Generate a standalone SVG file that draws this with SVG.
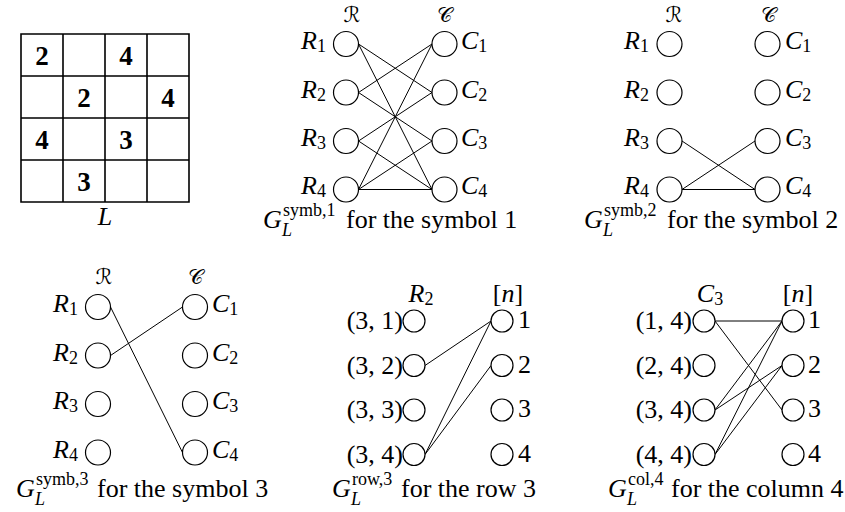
<svg xmlns="http://www.w3.org/2000/svg" width="845" height="512" viewBox="0 0 845 512">
<style>
text{font-family:"Liberation Serif",serif;font-size:26px;fill:#000}
.i{font-style:italic}
.s{font-size:18px}
.sc{font-family:"DejaVu Serif","DejaVu Sans",serif;font-size:21px}
.d{font-size:27px;font-weight:bold}
.n{fill:#fff;stroke:#000;stroke-width:1.2}
.e line{stroke:#000;stroke-width:1}
.g{fill:none;stroke:#000;stroke-width:1.6}
.m{text-anchor:middle}
.r{text-anchor:end}
</style>
<rect width="845" height="512" fill="#fff"/>

<!-- Latin square L -->
<g id="latin-square">
<path class="g" d="M21 34H189V202H21Z M63 34V202 M105 34V202 M147 34V202 M21 76H189 M21 118H189 M21 160H189"/>
<text class="m d" x="42" y="65">2</text>
<text class="m d" x="126" y="65">4</text>
<text class="m d" x="84" y="107">2</text>
<text class="m d" x="168" y="107">4</text>
<text class="m d" x="42" y="149">4</text>
<text class="m d" x="126" y="149">3</text>
<text class="m d" x="84" y="191">3</text>
<text class="m i" x="105" y="225">L</text>
</g>

<!-- Graph symb,1 -->
<g id="symb1-connectors" class="e">
<line x1="358.5" y1="44" x2="432" y2="92.5"/>
<line x1="358.5" y1="44" x2="432" y2="189.5"/>
<line x1="358.5" y1="92.5" x2="432" y2="44"/>
<line x1="358.5" y1="92.5" x2="432" y2="141"/>
<line x1="358.5" y1="141" x2="432" y2="92.5"/>
<line x1="358.5" y1="141" x2="432" y2="189.5"/>
<line x1="358.5" y1="189.5" x2="432" y2="44"/>
<line x1="358.5" y1="189.5" x2="432" y2="141"/>
<line x1="358.5" y1="189.5" x2="432" y2="189.5"/>
</g>
<g id="symb1-headers"><text class="m sc" x="352" y="22">ℛ</text><text class="m sc" x="444" y="22">𝒞</text></g>
<g id="s1-R1"><circle class="n" cx="346" cy="44" r="12.5"/><text class="r" x="326" y="49"><tspan class="i">R</tspan><tspan class="s" dy="3">1</tspan></text></g>
<g id="s1-R2"><circle class="n" cx="346" cy="92.5" r="12.5"/><text class="r" x="326" y="97.5"><tspan class="i">R</tspan><tspan class="s" dy="3">2</tspan></text></g>
<g id="s1-R3"><circle class="n" cx="346" cy="141" r="12.5"/><text class="r" x="326" y="146"><tspan class="i">R</tspan><tspan class="s" dy="3">3</tspan></text></g>
<g id="s1-R4"><circle class="n" cx="346" cy="189.5" r="12.5"/><text class="r" x="326" y="194"><tspan class="i">R</tspan><tspan class="s" dy="3">4</tspan></text></g>
<g id="s1-C1"><circle class="n" cx="444.5" cy="44" r="12.5"/><text x="461" y="49"><tspan class="i">C</tspan><tspan class="s" dy="3">1</tspan></text></g>
<g id="s1-C2"><circle class="n" cx="444.5" cy="92.5" r="12.5"/><text x="461" y="97.5"><tspan class="i">C</tspan><tspan class="s" dy="3">2</tspan></text></g>
<g id="s1-C3"><circle class="n" cx="444.5" cy="141" r="12.5"/><text x="461" y="146"><tspan class="i">C</tspan><tspan class="s" dy="3">3</tspan></text></g>
<g id="s1-C4"><circle class="n" cx="444.5" cy="189.5" r="12.5"/><text x="461" y="194"><tspan class="i">C</tspan><tspan class="s" dy="3">4</tspan></text></g>
<g id="s1-caption">
<text class="i" x="263" y="228">G</text><text class="s" x="283" y="216">symb,1</text><text class="s i" x="282" y="236">L</text>
<text x="346" y="228">for the symbol 1</text>
</g>

<!-- Graph symb,2 -->
<g id="symb2-connectors" class="e">
<line x1="682" y1="141" x2="755" y2="189.5"/>
<line x1="682" y1="189.5" x2="755" y2="141"/>
<line x1="682" y1="189.5" x2="755" y2="189.5"/>
</g>
<g id="symb2-headers"><text class="m sc" x="674" y="22">ℛ</text><text class="m sc" x="768" y="22">𝒞</text></g>
<g id="s2-R1"><circle class="n" cx="669.5" cy="44" r="12.5"/><text class="r" x="649" y="49"><tspan class="i">R</tspan><tspan class="s" dy="3">1</tspan></text></g>
<g id="s2-R2"><circle class="n" cx="669.5" cy="92.5" r="12.5"/><text class="r" x="649" y="97.5"><tspan class="i">R</tspan><tspan class="s" dy="3">2</tspan></text></g>
<g id="s2-R3"><circle class="n" cx="669.5" cy="141" r="12.5"/><text class="r" x="649" y="146"><tspan class="i">R</tspan><tspan class="s" dy="3">3</tspan></text></g>
<g id="s2-R4"><circle class="n" cx="669.5" cy="189.5" r="12.5"/><text class="r" x="649" y="194"><tspan class="i">R</tspan><tspan class="s" dy="3">4</tspan></text></g>
<g id="s2-C1"><circle class="n" cx="767.5" cy="44" r="12.5"/><text x="785" y="49"><tspan class="i">C</tspan><tspan class="s" dy="3">1</tspan></text></g>
<g id="s2-C2"><circle class="n" cx="767.5" cy="92.5" r="12.5"/><text x="785" y="97.5"><tspan class="i">C</tspan><tspan class="s" dy="3">2</tspan></text></g>
<g id="s2-C3"><circle class="n" cx="767.5" cy="141" r="12.5"/><text x="785" y="146"><tspan class="i">C</tspan><tspan class="s" dy="3">3</tspan></text></g>
<g id="s2-C4"><circle class="n" cx="767.5" cy="189.5" r="12.5"/><text x="785" y="194"><tspan class="i">C</tspan><tspan class="s" dy="3">4</tspan></text></g>
<g id="s2-caption">
<text class="i" x="584" y="228">G</text><text class="s" x="604" y="216">symb,2</text><text class="s i" x="603" y="236">L</text>
<text x="667" y="228">for the symbol 2</text>
</g>

<!-- Graph symb,3 -->
<g id="symb3-connectors" class="e">
<line x1="110.5" y1="307" x2="182.5" y2="452.5"/>
<line x1="110.5" y1="355.5" x2="182.5" y2="307"/>
</g>
<g id="symb3-headers"><text class="m sc" x="104" y="284">ℛ</text><text class="m sc" x="195" y="284">𝒞</text></g>
<g id="s3-R1"><circle class="n" cx="98" cy="307" r="12.5"/><text class="r" x="78" y="312"><tspan class="i">R</tspan><tspan class="s" dy="3">1</tspan></text></g>
<g id="s3-R2"><circle class="n" cx="98" cy="355.5" r="12.5"/><text class="r" x="78" y="360.5"><tspan class="i">R</tspan><tspan class="s" dy="3">2</tspan></text></g>
<g id="s3-R3"><circle class="n" cx="98" cy="404" r="12.5"/><text class="r" x="78" y="409"><tspan class="i">R</tspan><tspan class="s" dy="3">3</tspan></text></g>
<g id="s3-R4"><circle class="n" cx="98" cy="452.5" r="12.5"/><text class="r" x="78" y="457.5"><tspan class="i">R</tspan><tspan class="s" dy="3">4</tspan></text></g>
<g id="s3-C1"><circle class="n" cx="195" cy="307" r="12.5"/><text x="212" y="312"><tspan class="i">C</tspan><tspan class="s" dy="3">1</tspan></text></g>
<g id="s3-C2"><circle class="n" cx="195" cy="355.5" r="12.5"/><text x="212" y="360.5"><tspan class="i">C</tspan><tspan class="s" dy="3">2</tspan></text></g>
<g id="s3-C3"><circle class="n" cx="195" cy="404" r="12.5"/><text x="212" y="409"><tspan class="i">C</tspan><tspan class="s" dy="3">3</tspan></text></g>
<g id="s3-C4"><circle class="n" cx="195" cy="452.5" r="12.5"/><text x="212" y="457.5"><tspan class="i">C</tspan><tspan class="s" dy="3">4</tspan></text></g>
<g id="s3-caption">
<text class="i" x="16" y="497">G</text><text class="s" x="36" y="485">symb,3</text><text class="s i" x="35" y="505">L</text>
<text x="97" y="497">for the symbol 3</text>
</g>

<!-- Graph row,3 -->
<g id="row3-connectors" class="e">
<line x1="425" y1="365.5" x2="491" y2="321"/>
<line x1="425" y1="454.5" x2="491" y2="321"/>
<line x1="425" y1="454.5" x2="491" y2="365.5"/>
</g>
<g id="row3-headers"><text class="m" x="421" y="302"><tspan class="i">R</tspan><tspan class="s" dy="3">2</tspan></text><text class="m" x="508" y="302">[<tspan class="i">n</tspan>]</text></g>
<g id="r3-31"><circle class="n" cx="414" cy="321" r="11"/><text class="r" x="403" y="329">(3, 1)</text></g>
<g id="r3-32"><circle class="n" cx="414" cy="365.5" r="11"/><text class="r" x="403" y="373.5">(3, 2)</text></g>
<g id="r3-33"><circle class="n" cx="414" cy="410" r="11"/><text class="r" x="403" y="418">(3, 3)</text></g>
<g id="r3-34"><circle class="n" cx="414" cy="454.5" r="11"/><text class="r" x="403" y="462.5">(3, 4)</text></g>
<g id="r3-1"><circle class="n" cx="502" cy="321" r="11"/><text x="518" y="328">1</text></g>
<g id="r3-2"><circle class="n" cx="502" cy="365.5" r="11"/><text x="518" y="372.5">2</text></g>
<g id="r3-3"><circle class="n" cx="502" cy="410" r="11"/><text x="518" y="417">3</text></g>
<g id="r3-4"><circle class="n" cx="502" cy="454.5" r="11"/><text x="518" y="461.5">4</text></g>
<g id="row3-caption">
<text class="i" x="332" y="497">G</text><text class="s" x="352" y="485">row,3</text><text class="s i" x="351" y="505">L</text>
<text x="401" y="497">for the row 3</text>
</g>

<!-- Graph col,4 -->
<g id="col4-connectors" class="e">
<line x1="715" y1="321" x2="782" y2="321"/>
<line x1="715" y1="321" x2="782" y2="410"/>
<line x1="715" y1="410" x2="782" y2="321"/>
<line x1="715" y1="410" x2="782" y2="365.5"/>
<line x1="715" y1="454.5" x2="782" y2="321"/>
<line x1="715" y1="454.5" x2="782" y2="365.5"/>
</g>
<g id="col4-headers"><text class="m" x="710" y="302"><tspan class="i">C</tspan><tspan class="s" dy="3">3</tspan></text><text class="m" x="798" y="302">[<tspan class="i">n</tspan>]</text></g>
<g id="c4-14"><circle class="n" cx="704" cy="321" r="11"/><text class="r" x="692" y="329">(1, 4)</text></g>
<g id="c4-24"><circle class="n" cx="704" cy="365.5" r="11"/><text class="r" x="692" y="373.5">(2, 4)</text></g>
<g id="c4-34"><circle class="n" cx="704" cy="410" r="11"/><text class="r" x="692" y="418">(3, 4)</text></g>
<g id="c4-44"><circle class="n" cx="704" cy="454.5" r="11"/><text class="r" x="692" y="462.5">(4, 4)</text></g>
<g id="c4-1"><circle class="n" cx="793" cy="321" r="11"/><text x="808" y="328">1</text></g>
<g id="c4-2"><circle class="n" cx="793" cy="365.5" r="11"/><text x="808" y="372.5">2</text></g>
<g id="c4-3"><circle class="n" cx="793" cy="410" r="11"/><text x="808" y="417">3</text></g>
<g id="c4-4"><circle class="n" cx="793" cy="454.5" r="11"/><text x="808" y="461.5">4</text></g>
<g id="col4-caption">
<text class="i" x="608" y="497">G</text><text class="s" x="628" y="485">col,4</text><text class="s i" x="627" y="505">L</text>
<text x="671" y="497">for the column 4</text>
</g>
</svg>
